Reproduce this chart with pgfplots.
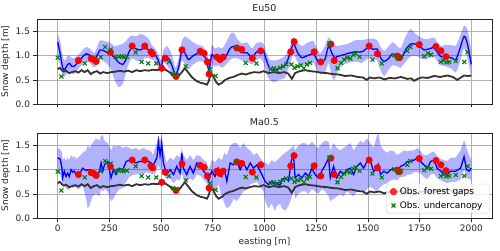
\documentclass[border=0pt]{standalone}
\usepackage{pgfplots}
\pgfplotsset{compat=1.18}
\usepackage{pgfplotstable}
\usepgfplotslibrary{fillbetween}
\usepackage{fontspec}
\setmainfont{DejaVu Sans}

\pgfplotstableread{
x y lo hi
0 1.28 0.95 1.45
12 1.05 0.80 1.30
24 0.75 0.55 0.98
35 0.72 0.58 0.90
48 0.82 0.65 1.00
58 0.84 0.68 1.00
68 0.78 0.63 0.95
80 0.78 0.62 0.95
95 0.85 0.70 1.00
110 0.92 0.78 1.06
125 1.00 0.85 1.14
140 1.04 0.88 1.18
152 1.02 0.86 1.16
165 0.95 0.80 1.10
178 0.90 0.76 1.05
190 1.00 0.82 1.18
205 1.12 0.92 1.32
225 1.10 0.88 1.30
245 1.05 0.80 1.28
260 1.02 0.70 1.25
275 0.96 0.50 1.20
295 0.86 0.35 1.22
315 0.82 0.42 1.25
330 0.92 0.65 1.30
345 1.08 0.85 1.38
360 1.17 0.95 1.42
380 1.14 0.90 1.40
400 1.12 0.88 1.45
420 1.16 0.95 1.42
440 1.12 0.95 1.35
455 1.06 0.92 1.22
470 1.03 0.90 1.15
485 0.92 0.80 1.05
500 0.76 0.68 0.90
512 0.98 0.86 1.12
528 0.98 0.80 1.20
545 0.88 0.68 1.10
560 0.70 0.55 0.90
570 0.60 0.52 0.75
585 0.76 0.62 0.95
600 1.10 0.90 1.30
615 1.06 0.82 1.40
632 0.92 0.72 1.35
655 1.00 0.82 1.28
680 1.05 0.88 1.22
700 1.02 0.88 1.20
718 0.94 0.80 1.10
732 0.70 0.55 0.90
745 1.02 0.80 1.22
760 0.96 0.78 1.15
778 0.98 0.80 1.18
795 0.92 0.75 1.15
815 1.00 0.82 1.28
835 1.16 0.92 1.45
852 1.19 0.95 1.48
868 1.14 0.95 1.35
890 1.06 0.90 1.25
915 1.06 0.88 1.28
940 0.96 0.82 1.15
958 1.06 0.90 1.25
980 1.12 0.95 1.28
995 1.10 0.85 1.25
1010 0.90 0.62 1.05
1025 0.74 0.50 0.92
1045 0.70 0.45 0.90
1068 0.74 0.50 0.92
1100 0.80 0.55 1.00
1124 1.05 0.85 1.20
1140 1.26 1.05 1.38
1158 1.08 0.88 1.28
1180 0.96 0.78 1.20
1212 1.01 0.82 1.28
1237 1.04 0.85 1.30
1253 0.92 0.70 1.15
1270 0.84 0.62 1.05
1292 0.92 0.65 1.20
1310 1.20 0.85 1.38
1326 1.05 0.55 1.30
1340 0.95 0.50 1.22
1350 0.98 0.65 1.20
1375 1.01 0.80 1.22
1405 1.05 0.85 1.25
1440 1.08 0.88 1.32
1470 1.08 0.85 1.32
1503 1.17 0.95 1.35
1527 1.13 0.92 1.35
1545 1.14 0.90 1.32
1561 0.96 0.70 1.18
1578 0.88 0.58 1.10
1602 0.95 0.72 1.20
1618 1.04 0.80 1.28
1642 0.98 0.78 1.20
1658 0.91 0.75 1.15
1682 1.12 0.88 1.40
1706 1.24 0.98 1.55
1731 1.24 1.00 1.45
1755 1.18 0.95 1.38
1771 1.12 0.92 1.35
1795 1.14 0.95 1.35
1819 1.17 0.98 1.38
1835 1.08 0.88 1.28
1852 0.98 0.80 1.20
1876 0.98 0.78 1.22
1908 0.95 0.72 1.22
1924 0.91 0.65 1.20
1940 1.08 0.80 1.35
1965 1.40 1.15 1.62
1981 1.25 0.95 1.55
2000 0.82 0.55 1.10
}\topdata

\pgfplotstableread{
x y lo hi
0 1.25 0.95 1.45
12 1.22 0.90 1.42
20 1.05 0.78 1.35
24 0.83 0.70 1.20
32 0.97 0.72 1.25
40 0.86 0.62 1.18
48 0.93 0.60 1.25
56 0.86 0.58 1.20
65 1.00 0.65 1.30
73 0.95 0.62 1.25
81 0.97 0.65 1.28
89 0.90 0.62 1.22
105 0.90 0.60 1.28
121 1.03 0.68 1.35
137 0.98 0.40 1.40
145 1.00 0.20 1.50
153 1.00 0.25 1.45
169 0.93 0.45 1.55
185 0.86 0.50 1.65
202 0.97 0.45 1.60
210 1.14 0.60 1.70
218 0.97 0.55 1.72
226 1.10 0.60 1.60
242 1.17 0.55 1.55
258 0.83 0.35 1.40
269 1.00 0.40 1.50
282 0.90 0.50 1.48
298 1.03 0.60 1.50
315 1.00 0.62 1.45
331 1.17 0.75 1.48
347 1.20 0.85 1.45
363 1.17 0.90 1.42
379 1.14 0.90 1.45
395 1.17 0.92 1.40
411 1.17 0.90 1.45
427 1.20 0.95 1.42
452 1.14 0.92 1.38
460 1.07 0.90 1.30
471 1.17 0.92 1.45
480 1.25 1.00 1.55
487 1.58 1.10 1.70
495 1.30 1.00 1.60
503 1.55 1.05 1.70
511 1.14 0.90 1.40
527 0.90 0.80 1.15
544 1.00 0.82 1.25
560 0.90 0.72 1.20
576 1.07 0.80 1.30
592 0.93 0.78 1.25
600 1.34 0.95 1.45
608 1.03 0.82 1.30
624 0.90 0.75 1.20
640 1.07 0.82 1.30
656 0.93 0.78 1.20
673 1.14 0.90 1.30
689 1.10 0.88 1.28
705 0.97 0.80 1.20
721 0.90 0.72 1.15
729 0.76 0.62 1.00
745 0.97 0.60 1.20
761 0.86 0.55 1.15
777 1.03 0.70 1.25
794 0.86 0.45 1.20
806 1.00 0.30 1.35
818 0.76 0.20 1.30
834 1.14 0.25 1.50
850 1.10 0.40 1.55
866 1.20 0.35 1.55
882 1.00 0.45 1.45
898 1.14 0.55 1.55
915 1.00 0.60 1.45
931 1.14 0.70 1.40
947 1.03 0.72 1.30
963 1.10 0.75 1.35
979 0.97 0.65 1.25
995 0.83 0.55 1.15
1003 0.76 0.35 1.15
1019 0.69 0.20 1.10
1035 0.76 0.30 1.20
1050 0.70 0.15 1.15
1060 0.73 0.25 1.20
1075 0.68 0.30 1.25
1084 0.80 0.20 1.30
1100 0.83 0.15 1.35
1116 0.76 0.25 1.40
1129 1.17 0.40 1.45
1140 1.31 0.60 1.50
1148 0.83 0.40 1.40
1164 0.90 0.50 1.50
1181 0.83 0.55 1.55
1197 0.93 0.55 1.55
1213 0.86 0.50 1.50
1229 1.03 0.60 1.58
1245 0.90 0.55 1.50
1261 0.83 0.50 1.45
1277 0.97 0.60 1.55
1294 1.10 0.55 1.60
1310 1.24 0.45 1.58
1318 0.83 0.35 1.40
1334 1.07 0.40 1.55
1350 0.83 0.45 1.45
1366 0.97 0.50 1.40
1382 0.90 0.45 1.45
1398 1.00 0.55 1.50
1415 1.03 0.50 1.55
1431 0.90 0.45 1.40
1447 1.07 0.55 1.50
1463 1.14 0.60 1.60
1479 1.03 0.50 1.55
1495 1.17 0.60 1.65
1511 1.20 0.65 1.55
1527 0.97 0.60 1.45
1543 1.00 0.55 1.70
1551 1.10 0.60 1.75
1561 0.90 0.65 1.50
1577 0.97 0.70 1.40
1593 0.93 0.72 1.35
1610 1.00 0.78 1.40
1626 1.03 0.80 1.38
1642 0.97 0.78 1.30
1658 1.07 0.85 1.35
1674 1.10 0.85 1.40
1690 1.17 0.90 1.38
1706 1.17 0.90 1.40
1723 1.20 0.95 1.40
1739 1.24 0.95 1.45
1755 1.17 0.92 1.38
1771 1.10 0.85 1.30
1787 1.03 0.80 1.30
1803 1.17 0.90 1.35
1819 1.20 0.92 1.38
1835 1.03 0.82 1.28
1852 0.97 0.78 1.22
1868 0.93 0.75 1.20
1884 0.90 0.72 1.18
1900 0.97 0.75 1.25
1924 0.97 0.75 1.25
1948 1.03 0.80 1.40
1965 1.27 1.00 1.62
1977 1.00 0.85 1.45
1989 0.97 0.80 1.30
2000 1.03 0.80 1.20
}\botdata

\pgfplotstableread{
x y
0 0.72
10 0.75
20 0.70
30 0.67
40 0.69
55 0.64
70 0.66
85 0.68
100 0.65
115 0.70
130 0.66
145 0.70
160 0.62
175 0.66
190 0.68
205 0.63
220 0.66
240 0.64
260 0.66
280 0.67
300 0.69
320 0.67
340 0.69
360 0.66
380 0.70
400 0.68
420 0.70
440 0.69
460 0.71
480 0.70
500 0.72
512 0.74
525 0.70
540 0.66
555 0.60
570 0.55
585 0.58
600 0.66
615 0.74
630 0.66
650 0.55
670 0.48
690 0.44
710 0.42
722 0.40
730 0.47
740 0.62
752 0.58
765 0.46
778 0.40
795 0.44
810 0.50
830 0.54
850 0.56
870 0.60
890 0.63
910 0.61
930 0.64
950 0.66
975 0.65
995 0.68
1020 0.64
1045 0.66
1070 0.64
1095 0.66
1115 0.63
1132 0.52
1148 0.64
1170 0.68
1197 0.70
1220 0.68
1245 0.67
1270 0.65
1300 0.64
1330 0.62
1360 0.61
1390 0.58
1420 0.59
1450 0.56
1475 0.55
1495 0.50
1510 0.55
1530 0.53
1555 0.55
1580 0.51
1605 0.54
1630 0.53
1660 0.56
1690 0.52
1710 0.53
1723 0.48
1740 0.52
1760 0.55
1790 0.54
1820 0.58
1850 0.56
1884 0.59
1910 0.56
1932 0.50
1950 0.55
1965 0.59
1985 0.58
2000 0.59
}\blackdata

\pgfplotstableread{
x y
100 0.90
162 0.94
175 0.92
186 0.88
255 1.07
360 1.20
421 1.20
451 1.08
459 1.04
503 0.74
520 0.95
572 0.57
601 1.12
689 1.09
708 1.05
724 0.87
732 0.62
770 0.97
785 0.92
800 0.97
866 1.16
890 1.13
941 0.95
982 1.10
1127 1.08
1143 1.29
1240 1.08
1272 0.87
1321 1.24
1337 0.90
1506 1.20
1546 1.04
1643 0.99
1652 0.96
1748 1.23
1829 1.19
1853 1.10
1877 0.98
}\gapdata

\pgfplotstableread{
x y
0 0.96
18 0.57
131 0.84
208 0.97
229 1.18
256 1.13
280 0.98
295 0.98
310 0.99
320 0.97
335 0.98
377 1.07
406 0.87
438 0.84
477 0.84
538 0.87
558 0.62
575 0.60
619 0.78
737 0.72
764 0.58
864 1.17
909 0.85
961 0.84
1030 0.72
1045 0.74
1060 0.70
1075 0.75
1090 0.78
1105 0.82
1130 0.82
1145 0.75
1160 0.78
1175 0.80
1190 0.74
1205 0.82
1220 0.85
1313 1.25
1353 0.74
1370 0.85
1385 0.92
1400 0.96
1415 0.94
1430 1.02
1440 1.05
1460 0.98
1522 0.92
1567 0.84
1627 1.01
1645 0.94
1660 0.98
1690 1.10
1705 1.18
1772 0.99
1790 1.05
1805 1.02
1853 0.87
1865 0.90
1880 0.86
1893 0.87
1925 0.89
1966 0.87
1982 1.07
}\underdata

\definecolor{gridgray}{RGB}{176,176,176}
\definecolor{mplgreen}{RGB}{0,128,0}
\definecolor{darkline}{RGB}{51,51,51}

\pgfplotsset{
  snowaxis/.style={
    scale only axis, width=455bp, height=85bp,
    xmin=-100, xmax=2100, ymin=0, ymax=1.76,
    xtick={0,250,500,750,1000,1250,1500,1750,2000},
    ytick={0,0.5,1.0,1.5},
    grid=major, grid style={gridgray, line width=0.7bp},
    axis line style={black!85, line width=0.7bp},
    tick align=outside, major tick length=3.5bp,
    tick style={black!85, line width=0.7bp},
    xtick pos=bottom, ytick pos=left,
    ticklabel style={font=\fontsize{9}{10}\selectfont, text=black!85},
    /pgf/number format/assume math mode=true,
    /pgf/number format/1000 sep={},
    yticklabel style={/pgf/number format/fixed, /pgf/number format/precision=1, /pgf/number format/fixed zerofill},
    ylabel={Snow depth [m]},
    ylabel style={font=\fontsize{9}{10}\selectfont, text=black!85, yshift=-1bp},
    title style={font=\fontsize{9.5}{10}\selectfont, text=black!85, yshift=-2.5bp},
  },
}

\begin{document}
\begin{tikzpicture}[x=1bp,y=1bp]

\begin{axis}[snowaxis, at={(0bp,0bp)}, anchor=south west, title={Eu50}, xticklabels={}]
\addplot[name path=hiA, draw=none, forget plot, smooth, tension=0.4] table[x=x,y=hi]{\topdata};
\addplot[name path=loA, draw=none, forget plot, smooth, tension=0.4] table[x=x,y=lo]{\topdata};
\addplot[fill=blue, fill opacity=0.3, draw=none, forget plot] fill between[of=hiA and loA];
\addplot[darkline, line width=1.8bp, forget plot] table[x=x,y=y]{\blackdata};
\addplot[blue, line width=1.3bp, forget plot, smooth, tension=0.4] table[x=x,y=y]{\topdata};
\addplot[only marks, mark=*, mark size=3.3bp, red, mark options={draw=red, fill=red}] table[x=x,y=y]{\gapdata};
\addplot[only marks, mark=x, mark size=2.8bp, mplgreen, mark options={line width=1.1bp}] table[x=x,y=y]{\underdata};
\end{axis}

\begin{axis}[snowaxis, at={(0bp,-114bp)}, anchor=south west, title={Ma0.5},
  xlabel={easting [m]}, xlabel style={font=\fontsize{9}{10}\selectfont, text=black!85, yshift=1bp},
  legend style={at={(0.995,0.055)}, anchor=south east, draw=gray!40, rounded corners=2.5bp,
    fill=white, fill opacity=0.8, text opacity=1, font=\fontsize{9}{10.5}\selectfont,
    inner xsep=4bp, inner ysep=1.5bp, row sep=1.5bp,
    nodes={inner xsep=3bp}},
  legend cell align=left]
\addplot[name path=hiB, draw=none, forget plot] table[x=x,y=hi]{\botdata};
\addplot[name path=loB, draw=none, forget plot] table[x=x,y=lo]{\botdata};
\addplot[fill=blue, fill opacity=0.3, draw=none, forget plot] fill between[of=hiB and loB];
\addplot[darkline, line width=1.8bp, forget plot] table[x=x,y=y]{\blackdata};
\addplot[blue, line width=1.3bp, forget plot] table[x=x,y=y]{\botdata};
\addplot[only marks, mark=*, mark size=3.3bp, red, mark options={draw=red, fill=red}] table[x=x,y=y]{\gapdata};
\addlegendentry{Obs. forest gaps}
\addplot[only marks, mark=x, mark size=2.8bp, mplgreen, mark options={line width=1.1bp}] table[x=x,y=y]{\underdata};
\addlegendentry{Obs. undercanopy}
\end{axis}

\pgfresetboundingbox
\path[use as bounding box] (-37bp,-147bp) rectangle (463bp,104bp);
\end{tikzpicture}
\end{document}
